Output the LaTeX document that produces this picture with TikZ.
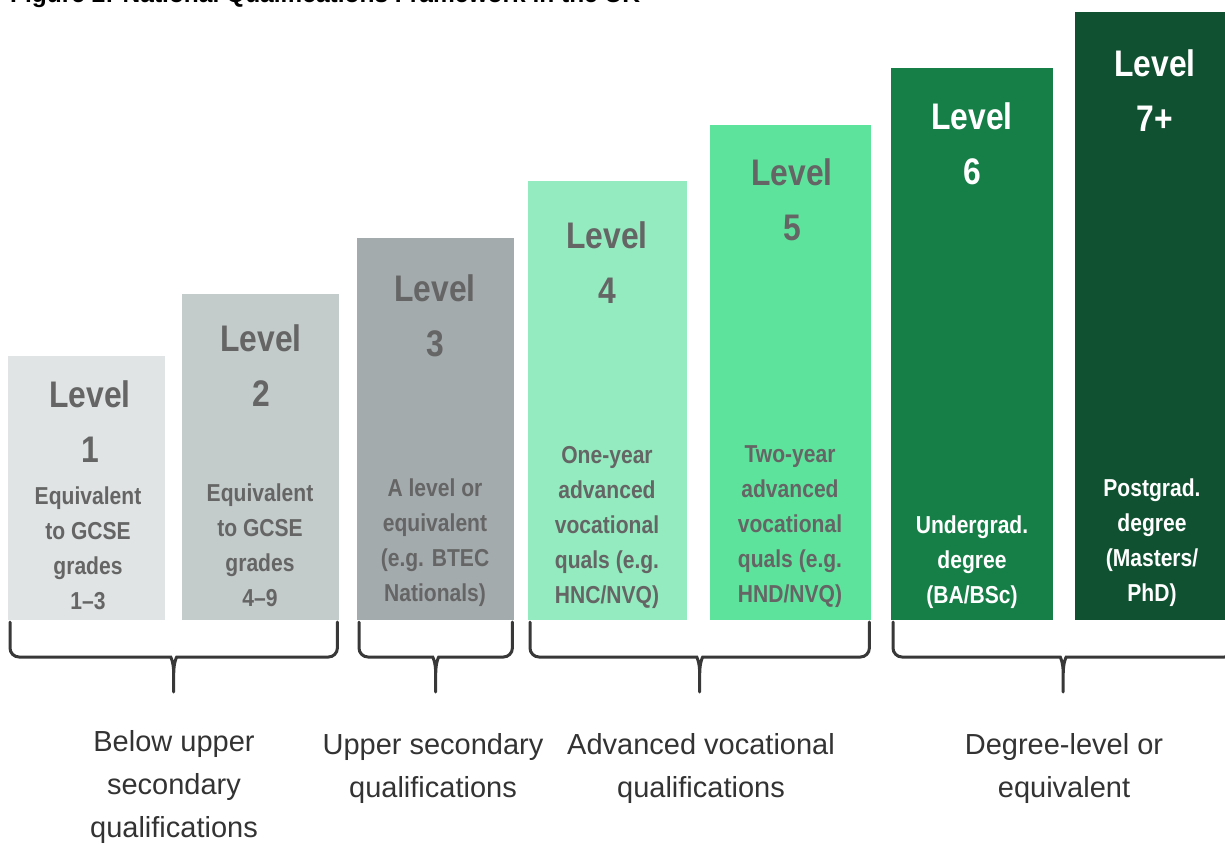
\documentclass[tikz,border=0pt]{standalone}
\usepackage{fontspec}
\usepackage{xcolor}
\setmainfont{Liberation Sans}
\newfontfamily\barfont[FakeStretch=0.86]{Liberation Sans}
\usetikzlibrary{calc}

\definecolor{lvlone}{HTML}{E0E4E4}
\definecolor{lvltwo}{HTML}{C4CBCB}
\definecolor{lvlthree}{HTML}{A4ABAD}
\definecolor{lvlfour}{HTML}{94EBC0}
\definecolor{lvlfive}{HTML}{5EE39D}
\definecolor{lvlsix}{HTML}{167F48}
\definecolor{lvlseven}{HTML}{0F5130}
\definecolor{barink}{HTML}{656565}
\definecolor{labelgrey}{HTML}{333333}
\definecolor{bracegrey}{HTML}{383838}

\tikzset{
  bar/.style={draw=none, inner sep=0pt, anchor=south west},
  levelhead/.style={align=center, inner sep=0pt, font=\barfont\bfseries\fontsize{37}{55}\selectfont},
  levelnote/.style={align=center, inner sep=0pt, font=\barfont\bfseries\fontsize{24.5}{35}\selectfont},
  grouplabel/.style={align=center, inner sep=0pt, text=labelgrey, font=\fontsize{29}{43}\selectfont},
  bracket/.style={draw=bracegrey, line width=3pt, line cap=round},
}

% curly bracket under a run of bars
\newcommand{\qualbrace}[2]{%
  \coordinate (bl) at ([shift={(2,2)}]#1.south west);
  \coordinate (br) at ([shift={(-2,2)}]#2.south east);
  \coordinate (bm) at ($(bl)!.5!(br)$);
  \draw[bracket] (bl) [rounded corners=9pt] -- ++(0,35) -- ([shift={(-12,35)}]bm) [sharp corners]
      .. controls ([shift={(-3,35)}]bm) and ([shift={(0,40)}]bm) .. ([shift={(0,52)}]bm) -- ([shift={(0,70)}]bm)
    (br) [rounded corners=9pt] -- ++(0,35) -- ([shift={(12,35)}]bm) [sharp corners]
      .. controls ([shift={(3,35)}]bm) and ([shift={(0,40)}]bm) .. ([shift={(0,52)}]bm);
}

\begin{document}
\begin{tikzpicture}[x=1pt, y=-1pt]
  \useasboundingbox (0,0) rectangle (1225,843);
  \clip (0,0) rectangle (1225,843);
  \fill[white] (0,0) rectangle (1225,843);

  % title, cut off by the top edge
  \node[anchor=base west, inner sep=0pt, font=\bfseries\fontsize{24.5}{28}\selectfont] (title) at (10,3)
    {Figure 2: National Qualifications Framework in the UK};

  % bars
  \node[bar, fill=lvlone, minimum width=157, minimum height=264] (b1) at (8,620) {};
  \node[bar, fill=lvltwo, minimum width=157, minimum height=326] (b2) at (182,620) {};
  \node[bar, fill=lvlthree, minimum width=157, minimum height=382] (b3) at (357,620) {};
  \node[bar, fill=lvlfour, minimum width=159, minimum height=439] (b4) at (528,620) {};
  \node[bar, fill=lvlfive, minimum width=161, minimum height=495] (b5) at (710,620) {};
  \node[bar, fill=lvlsix, minimum width=162, minimum height=552] (b6) at (891,620) {};
  \node[bar, fill=lvlseven, minimum width=160, minimum height=608] (b7) at (1075,620) {};

  % level headings
  \node[levelhead, text=barink] (h1) at (90,422) {Level\\1};
  \node[levelhead, text=barink] (h2) at (261,366) {Level\\2};
  \node[levelhead, text=barink] (h3) at (435,316) {Level\\3};
  \node[levelhead, text=barink] (h4) at (607,263) {Level\\4};
  \node[levelhead, text=barink] (h5) at (792,200) {Level\\5};
  \node[levelhead, text=white] (h6) at (972,144) {Level\\6};
  \node[levelhead, text=white] (h7) at (1155,91) {Level\\7+};

  % what each level means
  \node[levelnote, text=barink] (n1) at (88,548) {Equivalent\\to GCSE\\grades\\1–3};
  \node[levelnote, text=barink] (n2) at (260,545) {Equivalent\\to GCSE\\grades\\4–9};
  \node[levelnote, text=barink] (n3) at (435,543) {A level or\\equivalent\\(e.g. BTEC\\Nationals)};
  \node[levelnote, text=barink] (n4) at (607,527) {One-year\\advanced\\vocational\\quals (e.g.\\HNC/NVQ)};
  \node[levelnote, text=barink] (n5) at (790,527) {Two-year\\advanced\\vocational\\quals (e.g.\\HND/NVQ)};
  \node[levelnote, text=white] (n6) at (972,562) {Undergrad.\\degree\\(BA/BSc)};
  \node[levelnote, text=white] (n7) at (1152,543) {Postgrad.\\degree\\(Masters/\\PhD)};

  % brackets
  \qualbrace{b1}{b2}
  \qualbrace{b3}{b3}
  \qualbrace{b4}{b5}
  \qualbrace{b6}{b7}

  % group labels
  \node[grouplabel] (g1) at (174,787) {Below upper\\secondary\\qualifications};
  \node[grouplabel] (g2) at (433,768) {Upper secondary\\qualifications};
  \node[grouplabel] (g3) at (701,768) {Advanced vocational\\qualifications};
  \node[grouplabel] (g4) at (1064,768) {Degree-level or\\equivalent};
\end{tikzpicture}
\end{document}
